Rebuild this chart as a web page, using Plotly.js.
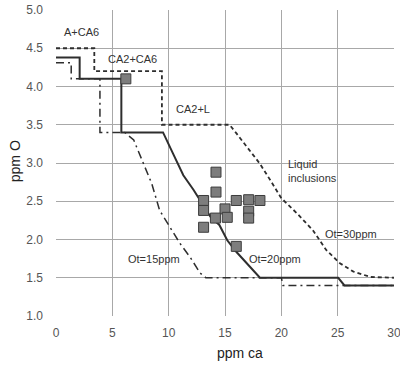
<!DOCTYPE html>
<html><head><meta charset="utf-8">
<script src="https://cdn.plot.ly/plotly-3.0.1.min.js"></script>
<style>body{margin:0;background:#fff}#c{width:400px;height:365px}</style>
</head><body><div id="c"></div>
<script>
// Ot = 30 ppm boundary (dashed)
const dashX = [0, 3.4, 3.4, 9.4, 9.4, 15.4, 16.0, 17.2, 18.1, 19.0, 20.0, 21.4, 22.8, 24.0, 25.2, 26.4, 27.9, 30];
const dashY = [4.5, 4.5, 4.2, 4.2, 3.5, 3.5, 3.39, 3.17, 2.99, 2.78, 2.54, 2.34, 2.12, 1.86, 1.69, 1.58, 1.51, 1.5];
// Ot = 20 ppm boundary (solid)
const solidX = [0, 2.1, 2.1, 5.8, 5.8, 9.5, 10.4, 11.3, 12.2, 12.9, 13.7, 14.5, 15.2, 16.0, 18.1, 25.05, 25.6, 30];
const solidY = [4.38, 4.38, 4.1, 4.1, 3.4, 3.4, 3.12, 2.84, 2.65, 2.49, 2.3, 2.19, 1.99, 1.84, 1.5, 1.5, 1.4, 1.4];
// Ot = 15 ppm boundary (dash-dot)
const ddX = [0, 1.35, 1.35, 3.9, 3.9, 6.1, 6.9, 8.5, 9.2, 10.1, 11.0, 11.9, 12.8, 13.3, 20.0, 20.15, 30];
const ddY = [4.31, 4.31, 4.1, 4.1, 3.4, 3.4, 3.3, 2.73, 2.38, 2.17, 1.95, 1.77, 1.56, 1.5, 1.5, 1.4, 1.4];
// measured inclusions
const ptX = [6.2, 14.2, 14.2, 13.1, 16.0, 17.1, 18.1, 13.1, 15.0, 17.1, 14.15, 15.2, 17.1, 13.1, 16.0];
const ptY = [4.1, 2.88, 2.62, 2.51, 2.51, 2.52, 2.51, 2.38, 2.4, 2.37, 2.28, 2.29, 2.28, 2.16, 1.91];
// region labels
const labText = ["A+CA6", "CA2+CA6", "CA2+L", "Liquid<br>inclusions", "Ot=15ppm", "Ot=20ppm", "Ot=30ppm"];
const labX = [2.3, 6.75, 12.15, 20.4, 8.7, 19.45, 26.15];
const labY = [4.71, 4.355, 3.7, 2.89, 1.75, 1.75, 2.07];
const labAnchor = ["center", "center", "center", "left", "center", "center", "center"];
const xTicks = [0, 5, 10, 15, 20, 25, 30];
const yTicks = [1.0, 1.5, 2.0, 2.5, 3.0, 3.5, 4.0, 4.5, 5.0];

const ink = '#2e2e2e';
const traces = [
  {x: dashX, y: dashY, mode: 'lines', line: {color: ink, width: 1.8, dash: '4px,3px'}, hoverinfo: 'skip'},
  {x: ddX, y: ddY, mode: 'lines', line: {color: ink, width: 1.5, dash: '8px,4px,2px,4px'}, hoverinfo: 'skip'},
  {x: solidX, y: solidY, mode: 'lines', line: {color: ink, width: 2}, hoverinfo: 'skip'},
  {x: ptX, y: ptY, mode: 'markers', marker: {symbol: 'square', size: 10, color: '#7d7d7d', line: {color: '#3c3c3c', width: 1}}}
];
const annotations = labText.map((t, i) => ({
  x: labX[i], y: labY[i], xref: 'x', yref: 'y', text: t, showarrow: false,
  xanchor: labAnchor[i], yanchor: 'middle', align: 'left',
  font: {family: 'Liberation Sans, Arial, sans-serif', size: 11, color: '#333'}
}));
annotations.push({xref: 'paper', yref: 'paper', x: 0.544, y: -0.121, text: 'ppm ca', showarrow: false,
  xanchor: 'center', yanchor: 'middle', font: {family: 'Liberation Sans, Arial, sans-serif', size: 14, color: '#222'}});
annotations.push({xref: 'paper', yref: 'paper', x: -0.119, y: 0.505, text: 'ppm O', showarrow: false, textangle: -90,
  xanchor: 'center', yanchor: 'middle', font: {family: 'Liberation Sans, Arial, sans-serif', size: 14, color: '#222'}});

const axisCommon = {
  showgrid: true, gridcolor: '#a8a8a8', gridwidth: 1, zeroline: false,
  showline: false, ticks: '', ticklabeloverflow: 'allow',
  tickfont: {family: 'Liberation Sans, Arial, sans-serif', size: 12, color: '#555'}
};
const layout = {
  width: 400, height: 365, margin: {l: 56, r: 6, t: 10, b: 49},
  paper_bgcolor: '#fff', plot_bgcolor: '#fff', showlegend: false,
  xaxis: Object.assign({}, axisCommon, {range: [0, 30], tickvals: xTicks, ticktext: xTicks.map(String), ticklabelstandoff: 8}),
  yaxis: Object.assign({}, axisCommon, {range: [1, 5], tickvals: yTicks, ticktext: yTicks.map(v => v.toFixed(1)), ticklabelstandoff: 12}),
  annotations: annotations
};
Plotly.newPlot('c', traces, layout, {staticPlot: true});
</script></body></html>
